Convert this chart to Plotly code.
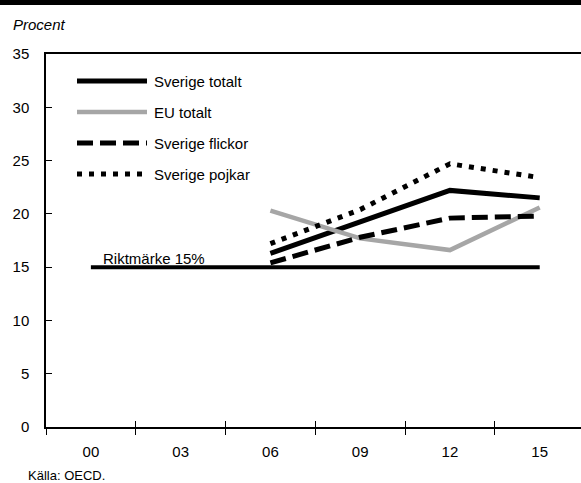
import plotly.graph_objects as go

years = ["00", "03", "06", "09", "12", "15"]
series_names = ["Sverige totalt", "EU totalt", "Sverige flickor", "Sverige pojkar"]
sverige_totalt = [None, None, 16.3, 19.2, 22.2, 21.5]
eu_totalt = [None, None, 20.3, 17.7, 16.6, 20.6]
sverige_flickor = [None, None, 15.4, 17.8, 19.6, 19.8]
sverige_pojkar = [None, None, 17.2, 20.4, 24.7, 23.4]
riktmarke = [15, 15, 15, 15, 15, 15]
riktmarke_label = "Riktmärke 15%"
y_ticks = [0, 5, 10, 15, 20, 25, 30, 35]

FONT = "Liberation Sans, Arial, sans-serif"
GRAY = "#a6a6a6"

styles = [
    dict(color="black", width=5, dash="solid"),
    dict(color=GRAY, width=4.5, dash="solid"),
    dict(color="black", width=5, dash="16px,7px"),
    dict(color="black", width=5, dash="5px,7px"),
]
values = [sverige_totalt, eu_totalt, sverige_flickor, sverige_pojkar]

fig = go.Figure()

# Benchmark line
fig.add_trace(go.Scatter(x=years, y=riktmarke, mode="lines",
                         line=dict(color="black", width=4),
                         showlegend=False, hoverinfo="skip"))

for name, vals, st in zip(series_names, values, styles):
    fig.add_trace(go.Scatter(x=years, y=vals, mode="lines", name=name,
                             line=st, showlegend=False, connectgaps=False))

# invisible trace for the inner tick overlay axis
fig.add_trace(go.Scatter(x=years, y=[None] * len(years), xaxis="x2",
                         showlegend=False, hoverinfo="skip"))

# Manual legend (samples + labels)
leg_top = 81
leg_step = 31
shapes = []
annotations = []
for i, (name, st) in enumerate(zip(series_names, styles)):
    ypix = leg_top + i * leg_step
    yoff = 54 - ypix
    shapes.append(dict(type="line", xref="paper", yref="paper",
                       xsizemode="pixel", ysizemode="pixel",
                       xanchor=0, yanchor=1,
                       x0=31, x1=101, y0=yoff, y1=yoff,
                       line=dict(color=st["color"], width=st["width"], dash=st["dash"])))
    annotations.append(dict(text=name, xref="paper", yref="paper",
                            x=0, y=1, xshift=106, yshift=yoff,
                            xanchor="left", yanchor="middle", showarrow=False,
                            font=dict(family=FONT, size=15, color="black")))

# top black band
shapes.append(dict(type="rect", xref="paper", yref="paper",
                   xsizemode="pixel", ysizemode="pixel",
                   xanchor=0, yanchor=1, x0=-50, x1=560, y0=49, y1=55,
                   line=dict(width=0), fillcolor="black", layer="above"))

annotations.append(dict(text=riktmarke_label, xref="x", yref="y",
                        x=0.11, y=15, xanchor="left", yanchor="bottom",
                        yshift=-2, showarrow=False,
                        font=dict(family=FONT, size=15, color="black")))
annotations.append(dict(text="<i>Procent</i>", xref="paper", yref="paper",
                        x=0, y=1, xshift=-35, yshift=30,
                        xanchor="left", yanchor="middle", showarrow=False,
                        font=dict(family=FONT, size=15, color="black")))
annotations.append(dict(text="Källa: OECD.", xref="paper", yref="paper",
                        x=0, y=0, xshift=-20, yshift=-48,
                        xanchor="left", yanchor="middle", showarrow=False,
                        font=dict(family=FONT, size=13, color="black")))

fig.update_layout(
    width=581, height=483,
    margin=dict(l=46, r=0, t=54, b=56, autoexpand=False),
    paper_bgcolor="white", plot_bgcolor="white",
    showlegend=False,
    shapes=shapes, annotations=annotations,
    xaxis=dict(type="category", categoryarray=years, range=[-0.5, 5.46],
               automargin=False,
               showgrid=False, zeroline=False,
               showline=True, linecolor="black", linewidth=1.5, mirror=True,
               ticks="outside", ticklen=6, tickwidth=1, tickcolor="black",
               tickson="boundaries", ticklabelstandoff=10,
               tickfont=dict(family=FONT, size=15, color="black")),
    xaxis2=dict(type="category", categoryarray=years, range=[-0.5, 5.46],
                overlaying="x", anchor="y", side="bottom", automargin=False,
                showgrid=False, zeroline=False, showline=False,
                ticks="inside", ticklen=6, tickwidth=1, tickcolor="black",
                tickson="boundaries", showticklabels=False),
    yaxis=dict(range=[0, 35], tickvals=y_ticks, automargin=False,
               showgrid=False, zeroline=False,
               showline=True, linecolor="black", linewidth=1.5,
               ticks="inside", ticklen=6, tickwidth=1, tickcolor="black",
               ticklabelstandoff=12,
               tickfont=dict(family=FONT, size=15, color="black")),
)

fig.write_html("out.html",
               config={"displayModeBar": False},
               post_script="document.body.style.margin='0';document.body.style.padding='0';")
